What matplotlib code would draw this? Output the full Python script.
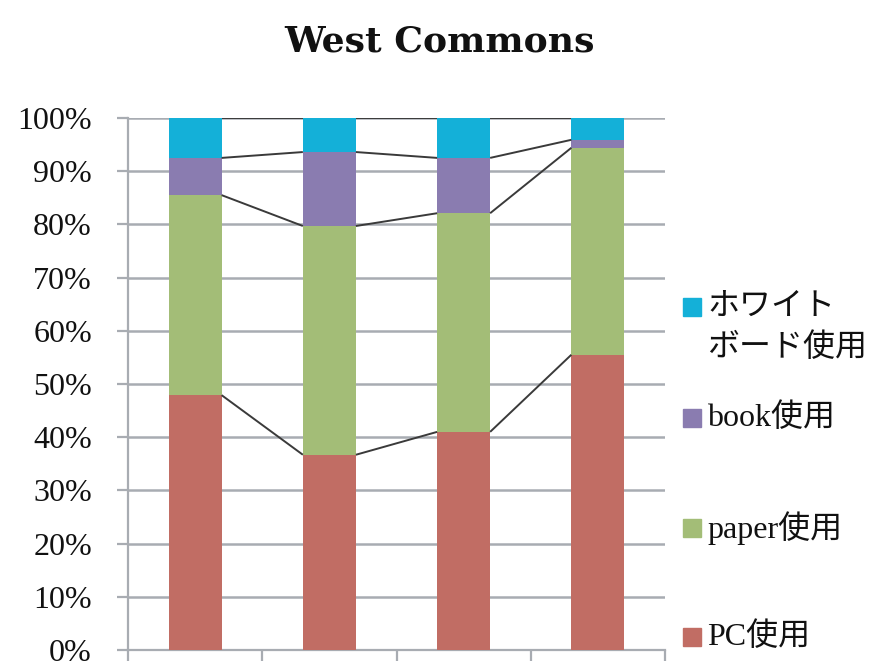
import matplotlib
matplotlib.use("Agg")
import matplotlib.pyplot as plt
from matplotlib.patches import Rectangle
import numpy as np

plt.rcParams['font.family'] = ['Liberation Serif', 'Noto Sans CJK JP']

categories = ["1", "2", "3", "4"]
series_names = ["PC使用", "paper使用", "book使用", "ホワイト\nボード使用"]
pc = [47.9, 36.7, 41.0, 55.5]
paper = [37.6, 43.0, 41.1, 38.9]
book = [7.0, 13.9, 10.4, 1.5]
whiteboard = [7.5, 6.4, 7.5, 4.1]
colors = ["#C16D64", "#A3BD77", "#8A7CB0", "#14B0D8"]
yticks = [0, 10, 20, 30, 40, 50, 60, 70, 80, 90, 100]
ytick_labels = ["0%", "10%", "20%", "30%", "40%", "50%", "60%", "70%", "80%", "90%", "100%"]
title = "West Commons"

W, H = 884, 667
fig = plt.figure(figsize=(W / 100, H / 100), dpi=100)
ax = fig.add_axes([128 / W, 1 - 650 / H, (665 - 128) / W, (650 - 118) / H])

x = np.arange(len(categories))
bw = 0.395
data = [pc, paper, book, whiteboard]
bottom = np.zeros(len(categories))
for vals, col, name in zip(data, colors, series_names):
    ax.bar(x, vals, bw, bottom=bottom, color=col, zorder=3, label=name)
    bottom = bottom + np.array(vals)
    # series lines
    for i in range(len(categories) - 1):
        ax.plot([x[i] + bw / 2, x[i + 1] - bw / 2], [bottom[i], bottom[i + 1]],
                color="#3a3a3a", lw=1.4, zorder=4, solid_capstyle="butt")

ax.set_xlim(-0.5, len(categories) - 0.5)
ax.set_ylim(0, 100)
ax.set_yticks(yticks)
ax.set_yticklabels(ytick_labels, fontsize=23, color="#111111")
ax.set_xticks(np.arange(-0.5, len(categories), 1.0))
ax.set_xticklabels([])
ax.grid(axis="y", color="#A8ACB2", lw=1.8, zorder=0)
ax.set_axisbelow(True)
for s in ["top", "right"]:
    ax.spines[s].set_visible(False)
for s in ["left", "bottom"]:
    ax.spines[s].set_color("#A8ACB2")
    ax.spines[s].set_linewidth(1.6)
ax.tick_params(axis="y", length=8, width=1.6, color="#A8ACB2", pad=18)
ax.tick_params(axis="x", length=8, width=1.6, color="#A8ACB2")

fig.text(440 / W, 1 - 42 / H, title, ha="center", va="center",
         fontsize=26, fontweight="bold", color="#111111",
         family=["DejaVu Serif"])

# legend (manual layout, Excel-style spread)
leg_centers = [637, 528, 418, 307]
for name, col, yc in zip(series_names, colors, leg_centers):
    fig.add_artist(Rectangle((683 / W, 1 - (yc + 9) / H), 18 / W, 18 / H,
                             transform=fig.transFigure, color=col))
    fig.text(707 / W, 1 - yc / H, name.split("\n")[0], ha="left", va="center",
             fontsize=23, color="#111111")
    if "\n" in name:
        fig.text(707 / W, 1 - (yc + 41) / H, name.split("\n")[1], ha="left",
                 va="center", fontsize=23, color="#111111")

fig.savefig("out.png", dpi=100)
